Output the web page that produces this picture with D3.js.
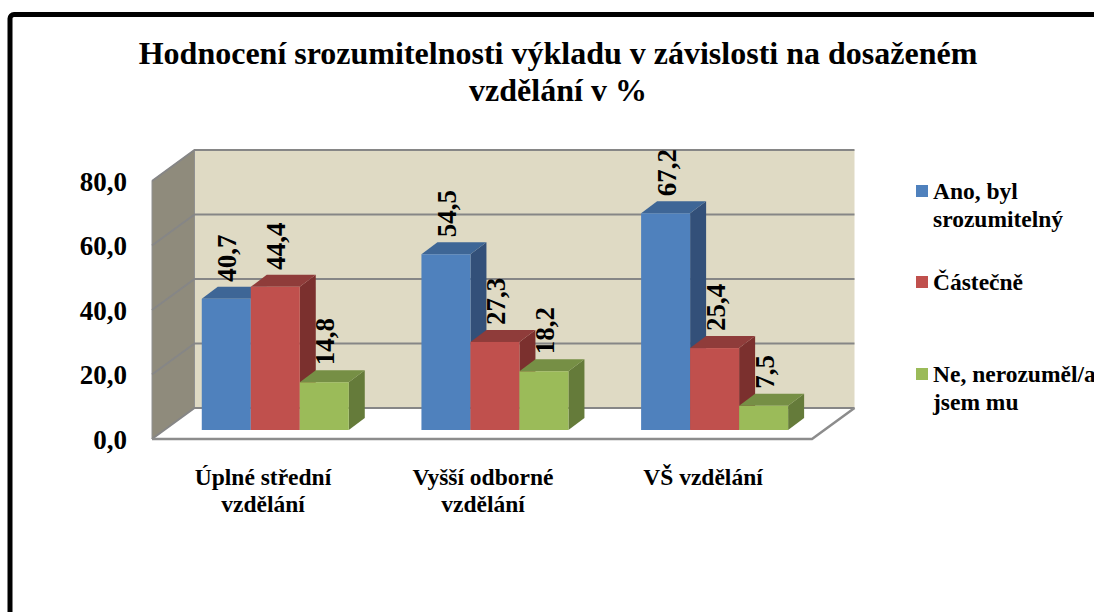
<!DOCTYPE html>
<html>
<head>
<meta charset="utf-8">
<script src="https://cdn.jsdelivr.net/npm/d3@7"></script>
<style>
  html, body { margin: 0; padding: 0; background: #fff; overflow: hidden; }
  text { font-family: "Liberation Serif", serif; font-weight: bold; fill: #000; }
</style>
</head>
<body>
<script>
// chart values
var categories = [["Úplné střední", "vzdělání"], ["Vyšší odborné", "vzdělání"], ["VŠ vzdělání"]];
var seriesNames = [["Ano, byl", "srozumitelný"], ["Částečně"], ["Ne, nerozuměl/a", "jsem mu"]];
var ano = [40.7, 54.5, 67.2];
var castecne = [44.4, 27.3, 25.4];
var ne = [14.8, 18.2, 7.5];
var yTicks = [0, 20, 40, 60, 80];
var titleLines = ["Hodnocení srozumitelnosti výkladu v závislosti na dosaženém", "vzdělání v %"];

var seriesValues = [ano, castecne, ne];
var frontColors = ["#4f81bd", "#c0504d", "#9bbb59"];
var topColors = ["#3e6696", "#8f3c3a", "#768f45"];
var sideColors = ["#335079", "#7b302e", "#657b3a"];

var width = 1094,
    height = 612;

var svg = d3.select("body")
  .append("svg")
  .attr("width", width)
  .attr("height", height);

// black frame, runs off the right and bottom of the picture
svg.append("rect")
  .attr("x", 10)
  .attr("y", 14.5)
  .attr("width", 1200)
  .attr("height", 800)
  .attr("rx", 4)
  .attr("fill", "none")
  .attr("stroke", "#000")
  .attr("stroke-width", 5);

// title
svg.selectAll(".title")
  .data(titleLines)
  .enter().append("text")
  .attr("class", "title")
  .attr("x", 558)
  .attr("y", function(d, i) { return 64 + i * 37; })
  .attr("text-anchor", "middle")
  .style("font-size", "32px")
  .text(function(d) { return d; });

// the 3d box: front plane and the offset to the back wall
var left = 152, right = 812;
var depthX = 42.5, depthY = -31;
var y = d3.scaleLinear().domain([0, 80]).range([439, 181]);
var x = d3.scaleBand().domain(d3.range(categories.length)).range([left, right]);

// bars stand a bit behind the front edge of the floor
var barShift = 13, barDrop = -9;
var barWidth = 49, barDepthX = 16, barDepthY = -12;
var gridColor = "#868686";

// back wall
svg.append("rect")
  .attr("x", left + depthX)
  .attr("y", y(80) + depthY)
  .attr("width", right - left)
  .attr("height", y(0) - y(80))
  .attr("fill", "#dfdac4");

// side wall
svg.append("polygon")
  .attr("points", [
    [left, y(80)], [left + depthX, y(80) + depthY],
    [left + depthX, y(0) + depthY], [left, y(0)]
  ].join(" "))
  .attr("fill", "#8f8b7c")
  .attr("stroke", "#909090")
  .attr("stroke-width", 1);

// floor
svg.append("polygon")
  .attr("points", [
    [left, y(0)], [left + depthX, y(0) + depthY],
    [right + depthX, y(0) + depthY], [right, y(0)]
  ].join(" "))
  .attr("fill", "#fff");

// gridlines on both walls
yTicks.forEach(function(t) {
  svg.append("polyline")
    .attr("points", [
      [left, y(t)], [left + depthX, y(t) + depthY], [right + depthX, y(t) + depthY]
    ].join(" "))
    .attr("fill", "none")
    .attr("stroke", gridColor)
    .attr("stroke-width", 2);
});

// front and right edges of the floor
svg.append("polyline")
  .attr("points", [
    [left, y(0)], [right, y(0)], [right + depthX, y(0) + depthY]
  ].join(" "))
  .attr("fill", "none")
  .attr("stroke", "#8c8c8c")
  .attr("stroke-width", 2.5);

// y axis
var comma = d3.formatLocale({ decimal: ",", thousands: " ", grouping: [3], currency: ["", ""] }).format(".1f");
var yAxis = d3.axisLeft(y).tickValues(yTicks).tickFormat(comma).tickSize(0).tickPadding(25);
var axisG = svg.append("g")
  .attr("transform", "translate(" + left + ",0)")
  .call(yAxis);
axisG.select(".domain").remove();
axisG.selectAll("text")
  .attr("dy", "0.34em")
  .style("font-size", "27px")
  .style("font-family", '"Liberation Serif", serif');

// bars, drawn group by group so later faces cover earlier ones
categories.forEach(function(cat, c) {
  var groupX = x(c) * 0.9985 + barShift + 37;
  seriesValues.forEach(function(vals, s) {
    var x0 = groupX + s * barWidth;
    var x1 = x0 + barWidth;
    var top = y(vals[c]) + barDrop;
    var base = y(0) + barDrop;
    var g = svg.append("g");
    g.append("polygon")
      .attr("points", [
        [x1, top], [x1 + barDepthX, top + barDepthY],
        [x1 + barDepthX, base + barDepthY], [x1, base]
      ].join(" "))
      .attr("fill", sideColors[s]);
    g.append("polygon")
      .attr("points", [
        [x0, top], [x0 + barDepthX, top + barDepthY],
        [x1 + barDepthX, top + barDepthY], [x1, top]
      ].join(" "))
      .attr("fill", topColors[s]);
    g.append("rect")
      .attr("x", x0)
      .attr("y", top)
      .attr("width", barWidth)
      .attr("height", base - top)
      .attr("fill", frontColors[s]);
  });
});

// value labels go on top of everything
categories.forEach(function(cat, c) {
  var groupX = x(c) * 0.9985 + barShift + 37;
  seriesValues.forEach(function(vals, s) {
    var lx = groupX + s * barWidth + barWidth / 2 + 10;
    var ly = y(vals[c]) + barDrop - 17;
    svg.append("text")
      .attr("transform", "translate(" + lx + "," + ly + ") rotate(-90)")
      .style("font-size", "27px")
      .text(comma(vals[c]));
  });
});

// category labels
categories.forEach(function(lines, c) {
  lines.forEach(function(line, i) {
    svg.append("text")
      .attr("x", x(c) + x.bandwidth() / 2 + 1)
      .attr("y", 485 + i * 27)
      .attr("text-anchor", "middle")
      .style("font-size", "23.5px")
      .text(line);
  });
});

// legend
var legendY = [185, 276, 368];
seriesNames.forEach(function(lines, s) {
  svg.append("rect")
    .attr("x", 916)
    .attr("y", legendY[s])
    .attr("width", 12)
    .attr("height", 12)
    .attr("fill", frontColors[s]);
  lines.forEach(function(line, i) {
    svg.append("text")
      .attr("x", 933)
      .attr("y", legendY[s] + 14 + i * 27.5)
      .style("font-size", "23.5px")
      .text(line);
  });
});
</script>
</body>
</html>
